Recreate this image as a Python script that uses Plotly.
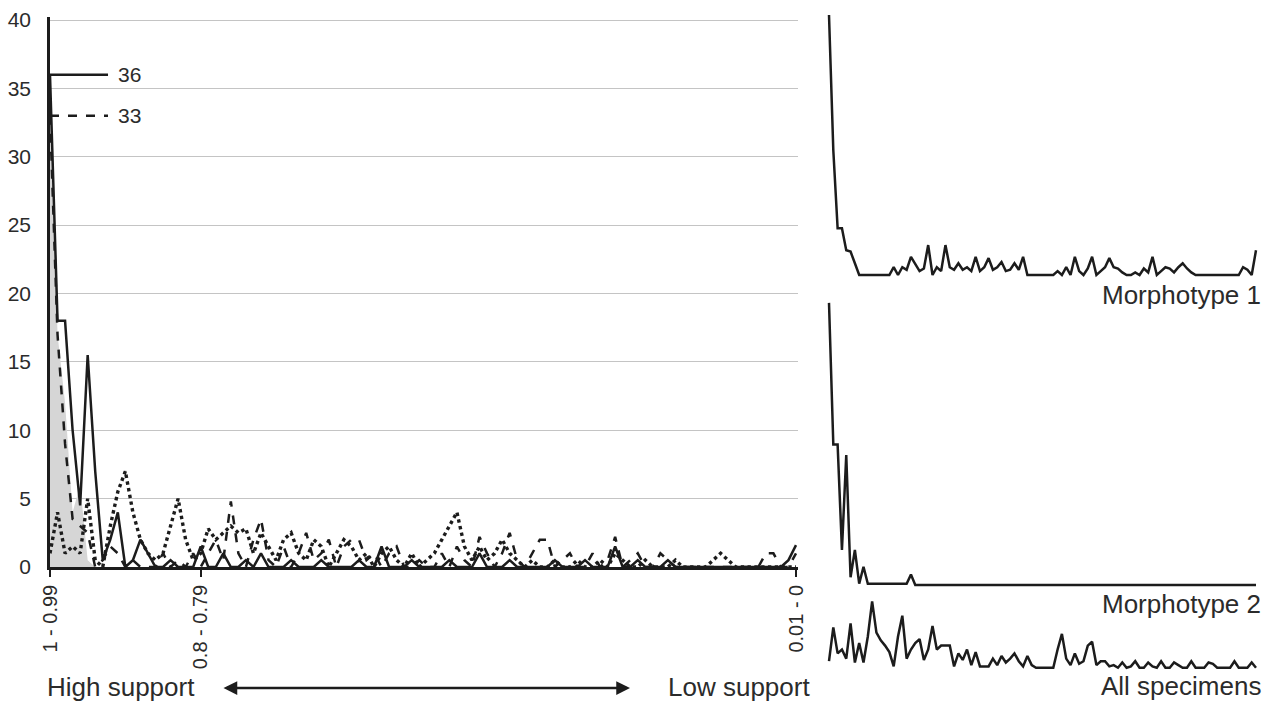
import plotly.graph_objects as go

W, H = 1271, 702

# support bins, 1 - 0.99 down to 0.01 - 0
bins = [f"{(100 - i) / 100:g} - {(99 - i) / 100:g}" for i in range(100)]
tick_labels = ["1 - 0.99", "0.8 - 0.79", "0.01 - 0"]

# main panel series (counts per bin)
solid = [36, 18, 18, 10, 4.5, 15.5, 7, 0.5, 2, 4, 0, 0.5, 2, 1, 0, 0, 0.5, 0, 0, 0,
         1.5, 0, 0, 1, 0, 0, 0.5, 0, 1, 0, 0, 0, 0.5, 0, 0, 0, 0.5, 0, 0, 0,
         0, 0.5, 0, 0, 1.5, 0, 0, 0, 0.5, 0, 0, 0, 0, 0.5, 0, 0, 0, 1, 0, 0,
         0, 0.5, 0, 0, 0, 0, 0, 0.5, 0, 0, 0, 0.5, 0, 0, 0, 1.5, 0, 0, 0.5, 0,
         0, 0, 0.5, 0, 0, 0, 0, 0, 0, 0, 0, 0, 0, 0, 0, 0, 0, 0, 0.5, 1.6]
dashed = [33, 17, 9, 3.5, 3, 2.5, 0, 0.5, 1.5, 1, 0, 0.5, 0, 0, 0, 1, 0, 0.5, 0, 1,
          0, 1, 2, 0.5, 4.8, 1, 0, 2, 3.5, 0.5, 0, 1.5, 0, 1, 2.5, 0.5, 1, 2, 0, 1.5,
          2, 2, 0.5, 1, 0, 1, 1.5, 0, 0, 0.5, 0, 0, 1, 0, 1.5, 0.5, 0, 2.2, 1, 0,
          1, 2.5, 0.5, 0, 1, 2, 2, 0, 0.5, 1, 0, 0, 1, 0, 0.5, 2.2, 0, 0.5, 1, 0,
          0, 1, 0.5, 0, 0, 0, 0, 0, 0, 0, 0, 0, 0, 0, 0, 1, 1, 0, 0, 1]
dotted = [1, 4, 1, 1.5, 1, 5, 0.5, 0, 3, 5.5, 7, 4, 2, 1, 0.5, 1, 3, 5, 2, 0.5,
          1, 2.8, 2, 2.5, 3, 2.5, 2.8, 1, 2.5, 1.5, 0.5, 2, 2.5, 1, 0.5, 2, 1.5, 0, 1, 2,
          1.5, 0.5, 1, 0, 1, 1.5, 0.5, 0, 1, 0, 0.5, 1, 2, 3, 4, 1.5, 0.5, 1.5, 0.5, 1,
          2, 1, 0.5, 0, 0.5, 0, 0, 0.5, 0, 0, 0.5, 0, 0, 0.5, 0, 1, 0.5, 0, 0, 0.5,
          0, 0, 0, 0.5, 0, 0, 0, 0, 0.5, 1, 0.5, 0, 0, 0, 0, 0, 0, 0, 0, 0]
shaded = [36, 17, 12, 4, 6, 0.5] + [0] * 94

# small panels on the right
morpho1 = [20, 9.6, 3.6, 3.6, 1.9, 1.8, 0.9, 0, 0, 0, 0, 0, 0, 0, 0, 0.6, 0, 0.6, 0.4, 1.4,
           0.9, 0.3, 0.5, 2.3, 0, 0.6, 0.3, 2.3, 0.6, 0.4, 0.9, 0.4, 0.6, 0.3, 1.4, 0.3, 0.6, 1.3, 0.4, 0.6,
           1.0, 0.3, 0.4, 0.9, 0.4, 1.4, 0, 0, 0, 0, 0, 0, 0, 0.3, 0, 0.6, 0, 1.4, 0.3, 0,
           0.5, 1.4, 0, 0.3, 0.6, 1.3, 0.6, 0.5, 0.2, 0, 0, 0.2, 0, 0.5, 0.2, 1.4, 0, 0.3, 0.6, 0.5,
           0.2, 0.6, 0.9, 0.5, 0.2, 0, 0, 0, 0, 0, 0, 0, 0, 0, 0, 0, 0.6, 0.4, 0, 1.9]
morpho2 = [21.7, 10.8, 10.8, 2.7, 10, 0.6, 2.7, 0.1, 1.4, 0.1, 0.1, 0.1, 0.1, 0.1, 0.1, 0.1, 0.1, 0.1, 0.1, 0.8,
           0] + [0] * 79
all_spec = [0.6, 3.2, 1.2, 1.5, 0.8, 3.5, 0.5, 2.0, 0.5, 2.5, 5.2, 2.8, 2.2, 1.8, 1.3, 0.2, 2.5, 4.1, 0.8, 1.5,
            2.0, 2.3, 0.7, 1.5, 3.3, 1.5, 1.8, 1.8, 1.8, 0.2, 1.2, 0.7, 1.5, 0.3, 1.3, 0.2, 0.2, 0.2, 0.8, 0.3,
            1.0, 0.5, 0.8, 1.2, 0.6, 0.2, 1.0, 0.3, 0.1, 0.1, 0.1, 0.1, 0.1, 1.5, 2.7, 0.8, 0.3, 1.2, 0.4, 0.6,
            1.8, 2.1, 0.3, 0.6, 0.6, 0.2, 0.3, 0.1, 0.5, 0.1, 0.2, 0.6, 0.1, 0.1, 0.5, 0.2, 0.1, 0.6, 0.1, 0.1,
            0.5, 0.3, 0.1, 0.1, 0.6, 0.1, 0.1, 0.1, 0.5, 0.4, 0.1, 0.1, 0.1, 0.1, 0.6, 0.1, 0.1, 0.1, 0.5, 0.1]

INK = "#1c1c1c"
TXT = "#2b2b2b"
FONT = "Liberation Sans, Arial, sans-serif"


def xdom(left_px, right_px):
    return [left_px / W, right_px / W]


def ydom(bottom_px, top_px):
    return [1 - bottom_px / H, 1 - top_px / H]


fig = go.Figure()

# main panel
fig.add_trace(go.Scatter(x=bins, y=shaded, mode="lines", fill="tozeroy",
                         fillcolor="#d6d6d6", line=dict(width=0), xaxis="x", yaxis="y"))
fig.add_trace(go.Scatter(x=bins, y=dotted, mode="lines",
                         line=dict(color=INK, width=3.4, dash="dot"), xaxis="x", yaxis="y"))
fig.add_trace(go.Scatter(x=bins, y=dashed, mode="lines",
                         line=dict(color=INK, width=2.5, dash="dash"), xaxis="x", yaxis="y"))
fig.add_trace(go.Scatter(x=bins, y=solid, mode="lines",
                         line=dict(color=INK, width=2.5), xaxis="x", yaxis="y"))

# right panels
for series, yax in [(morpho1, "y2"), (morpho2, "y3"), (all_spec, "y4")]:
    fig.add_trace(go.Scatter(x=bins, y=series, mode="lines",
                             line=dict(color=INK, width=2.5), xaxis="x2", yaxis=yax))

step = 746 / 99
hidden = dict(showgrid=False, zeroline=False, showline=False, showticklabels=False,
              ticks="", automargin=False)

fig.update_layout(
    width=W, height=H,
    margin=dict(l=0, r=0, t=0, b=0, autoexpand=False),
    paper_bgcolor="white", plot_bgcolor="white",
    showlegend=False,
    font=dict(family=FONT, color=TXT),
    xaxis=dict(domain=xdom(50, 50 + 99.3 * step), range=[0, 99.3],
               type="category", categoryorder="array", categoryarray=bins,
               tickmode="array", tickvals=tick_labels, ticktext=tick_labels,
               tickangle=-90, tickfont=dict(size=20, color=TXT),
               ticks="outside", ticklen=7, tickwidth=2, tickcolor=INK,
               showline=True, linecolor=INK, linewidth=2.5,
               showgrid=False, zeroline=False, anchor="y", automargin=False),
    yaxis=dict(domain=ydom(567, 567 - 40.2 * 13.675), range=[0, 40.2],
               tickvals=[0, 5, 10, 15, 20, 25, 30, 35, 40],
               tickfont=dict(size=21, color=TXT), ticks="", ticklabelstandoff=12,
               showline=True, linecolor=INK, linewidth=2.5,
               showgrid=True, gridcolor="#c4c4c4", gridwidth=1.2,
               zeroline=False, anchor="x", automargin=False),
    xaxis2=dict(domain=xdom(829 - 2.16, 1256 + 2.16), range=[-0.5, 99.5],
                type="category", categoryorder="array", categoryarray=bins,
                anchor="y4", **hidden),
    yaxis2=dict(domain=ydom(275 + 3.9, 275 - 20.3 * 13), range=[-0.3, 20.3], anchor="x2", **hidden),
    yaxis3=dict(domain=ydom(585 + 3.9, 585 - 22 * 13), range=[-0.3, 22], anchor="x2", **hidden),
    yaxis4=dict(domain=ydom(669 + 3.9, 669 - 5.5 * 13), range=[-0.3, 5.5], anchor="x2", **hidden),
)

# value markers for the first bin
fig.add_shape(type="line", xref="x", yref="y", x0=0, x1=7.7, y0=solid[0], y1=solid[0],
              line=dict(color=INK, width=2.5))
fig.add_shape(type="line", xref="x", yref="y", x0=0, x1=7.7, y0=dashed[0], y1=dashed[0],
              line=dict(color=INK, width=2.5, dash="dash"))
for v in (solid[0], dashed[0]):
    fig.add_annotation(x=8.7, y=v, xref="x", yref="y", text=f"{v:g}", showarrow=False,
                       xanchor="left", yanchor="middle", font=dict(size=21, color=TXT))

# bottom labels and arrow
fig.add_annotation(x=45 / W, y=1 - 687 / H, xref="paper", yref="paper", text="High support",
                   showarrow=False, xanchor="left", yanchor="middle", font=dict(size=26, color=TXT))
fig.add_annotation(x=812 / W, y=1 - 687 / H, xref="paper", yref="paper", text="Low support",
                   showarrow=False, xanchor="right", yanchor="middle", font=dict(size=26, color=TXT))
fig.add_annotation(x=630 / W, y=1 - 688 / H, xref="paper", yref="paper", text="",
                   showarrow=True, ax=-408, ay=0, axref="pixel", ayref="pixel",
                   arrowhead=2, arrowside="end+start", arrowsize=1.1, arrowwidth=2.5,
                   arrowcolor=INK)

# panel names
for label, ypx in [("Morphotype 1", 295), ("Morphotype 2", 604), ("All specimens", 686)]:
    fig.add_annotation(x=1263 / W, y=1 - ypx / H, xref="paper", yref="paper", text=label,
                       showarrow=False, xanchor="right", yanchor="middle",
                       font=dict(size=26, color=TXT))

# drop the default page margin so the figure sits at the window's corner
fig.write_html("out.html", config={"displayModeBar": False},
               post_script="document.body.style.margin='0';")
